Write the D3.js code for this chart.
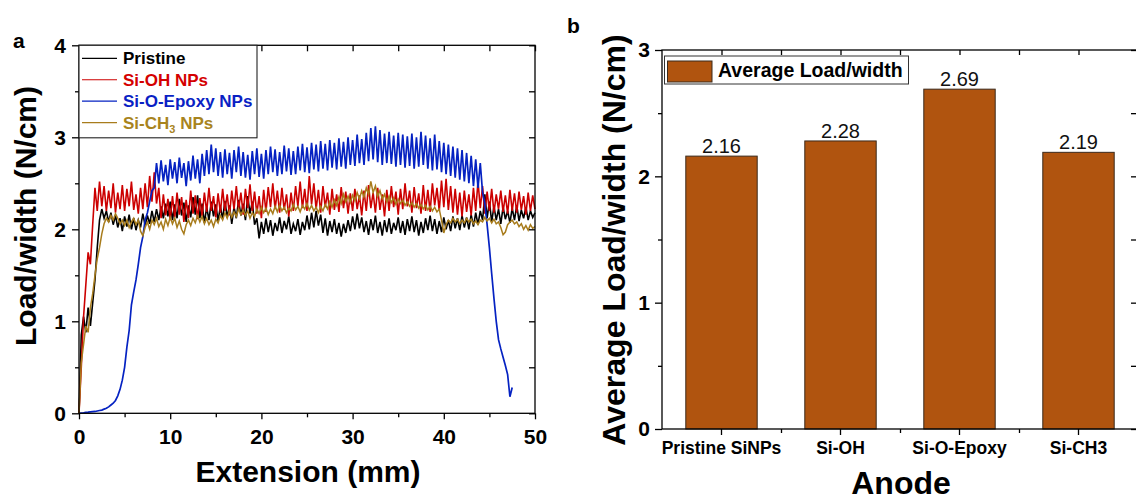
<!DOCTYPE html>
<html>
<head>
<meta charset="utf-8">
<script src="https://cdn.jsdelivr.net/npm/d3@7"></script>
<style>
  html, body { margin: 0; padding: 0; background: #fff; }
  svg { display: block; }
</style>
</head>
<body>
<script>
// ---------------- DATA ----------------
// Panel a: peel test curves (extension in mm, load/width in N/cm)
const extension = [
  0,0.25,0.5,0.75,1,1.25,1.5,1.75,2,2.25,2.5,2.75,3,3.25,3.5,3.75,4,4.25,4.5,4.75,
  5,5.25,5.5,5.75,6,6.25,6.5,6.75,7,7.25,7.5,7.75,8,8.25,8.5,8.75,9,9.25,9.5,9.75,
  10,10.25,10.5,10.75,11,11.25,11.5,11.75,12,12.25,12.5,12.75,13,13.25,13.5,13.75,14,14.25,14.5,14.75,
  15,15.25,15.5,15.75,16,16.25,16.5,16.75,17,17.25,17.5,17.75,18,18.25,18.5,18.75,19,19.25,19.5,19.75,
  20,20.25,20.5,20.75,21,21.25,21.5,21.75,22,22.25,22.5,22.75,23,23.25,23.5,23.75,24,24.25,24.5,24.75,
  25,25.25,25.5,25.75,26,26.25,26.5,26.75,27,27.25,27.5,27.75,28,28.25,28.5,28.75,29,29.25,29.5,29.75,
  30,30.25,30.5,30.75,31,31.25,31.5,31.75,32,32.25,32.5,32.75,33,33.25,33.5,33.75,34,34.25,34.5,34.75,
  35,35.25,35.5,35.75,36,36.25,36.5,36.75,37,37.25,37.5,37.75,38,38.25,38.5,38.75,39,39.25,39.5,39.75,
  40,40.25,40.5,40.75,41,41.25,41.5,41.75,42,42.25,42.5,42.75,43,43.25,43.5,43.75,44,44.25,44.5,44.75,
  45,45.25,45.5,45.75,46,46.25,46.5,46.75,47,47.25,47.5,47.75,48,48.25,48.5,48.75,49,49.25,49.5,49.75,
  50
];
const pristine = [
  0,0.85,1.05,0.88,1.15,0.95,1.2,1.45,1.8,2.1,2.22,2.12,2.2,2.08,2.18,2.05,2.15,2.02,2.12,1.98,
  2.14,2.03,2.16,2.0,2.12,1.99,2.1,2.02,2.17,2.04,2.15,2.06,2.2,2.08,2.22,2.1,2.25,2.12,2.28,2.14,
  2.3,2.1,2.27,2.12,2.33,2.15,2.29,2.08,2.26,2.13,2.35,2.16,2.37,2.12,2.28,2.07,2.24,2.1,2.3,2.14,
  2.27,2.09,2.25,2.11,2.31,2.13,2.26,2.06,2.24,2.12,2.32,2.15,2.28,2.1,2.36,2.17,2.3,2.05,2.12,1.9,
  2.08,1.95,2.12,1.97,2.1,1.93,2.07,1.98,2.13,1.96,2.09,2.0,2.14,1.95,2.06,1.98,2.11,1.94,2.08,1.99,
  2.15,2.0,2.18,2.02,2.2,2.04,2.16,1.96,2.12,1.93,2.09,1.97,2.11,1.95,2.07,1.92,2.06,1.96,2.1,1.98,
  2.14,2.0,2.17,2.01,2.13,1.97,2.09,1.94,2.11,1.99,2.15,1.96,2.08,1.93,2.1,1.97,2.12,1.95,2.07,1.99,
  2.13,1.96,2.09,1.94,2.11,1.98,2.14,1.97,2.1,1.93,2.08,1.96,2.12,1.99,2.15,1.98,2.11,1.95,2.09,1.97,
  2.13,2.0,2.1,1.98,2.14,2.01,2.12,1.99,2.15,2.02,2.13,2.0,2.16,2.03,2.18,2.05,2.2,2.1,2.38,2.12,
  2.3,2.08,2.25,2.1,2.22,2.06,2.24,2.11,2.2,2.07,2.23,2.1,2.26,2.09,2.21,2.12,2.24,2.1,2.2,2.13,
  2.18
];
const siOH = [
  0,0.5,1.05,1.4,1.75,1.62,2.05,2.45,2.2,2.52,2.25,2.47,2.2,2.42,2.23,2.5,2.18,2.4,2.22,2.48,
  2.2,2.44,2.25,2.52,2.21,2.38,2.17,2.45,2.22,2.5,2.24,2.58,2.3,2.62,2.28,2.45,2.12,2.38,2.15,2.33,
  2.1,2.36,2.13,2.4,2.16,2.35,2.08,2.32,2.12,2.42,2.17,2.37,2.11,2.34,2.14,2.4,2.19,2.45,2.2,2.36,
  2.13,2.39,2.18,2.44,2.2,2.38,2.15,2.42,2.22,2.47,2.21,2.4,2.16,2.44,2.23,2.49,2.2,2.41,2.17,2.36,
  2.12,2.43,2.19,2.46,2.24,2.5,2.22,2.42,2.18,2.45,2.21,2.38,2.14,2.4,2.2,2.47,2.25,2.52,2.23,2.44,
  2.2,2.58,2.27,2.5,2.22,2.43,2.18,2.47,2.24,2.4,2.16,2.44,2.21,2.38,2.19,2.46,2.23,2.41,2.17,2.39,
  2.2,2.44,2.22,2.37,2.15,2.42,2.2,2.48,2.23,2.4,2.18,2.45,2.21,2.38,2.14,2.43,2.2,2.47,2.24,2.41,
  2.16,2.44,2.22,2.5,2.25,2.42,2.18,2.46,2.23,2.39,2.17,2.48,2.2,2.43,2.19,2.5,2.26,2.45,2.2,2.53,
  2.24,2.55,2.21,2.47,2.18,2.44,2.16,2.4,2.14,2.42,2.19,2.38,2.15,2.45,2.2,2.52,2.23,2.47,2.17,2.41,
  2.2,2.44,2.18,2.38,2.22,2.42,2.19,2.37,2.17,2.43,2.2,2.39,2.18,2.41,2.21,2.36,2.16,2.4,2.2,2.37,
  2.22
];
const siOEpoxy = [
  0,0.003,0.006,0.01,0.012,0.015,0.018,0.02,0.025,0.03,0.035,0.045,0.055,0.07,0.09,0.11,0.14,0.19,0.26,0.36,
  0.5,0.72,0.9,1.18,1.32,1.45,1.62,1.8,1.92,2.1,2.18,2.3,2.42,2.45,2.72,2.5,2.75,2.52,2.7,2.48,
  2.76,2.55,2.73,2.5,2.78,2.56,2.72,2.47,2.74,2.53,2.8,2.55,2.76,2.5,2.82,2.58,2.86,2.6,2.92,2.62,
  2.88,2.58,2.84,2.56,2.87,2.6,2.83,2.55,2.86,2.62,2.9,2.58,2.84,2.56,2.81,2.54,2.85,2.6,2.88,2.57,
  2.82,2.55,2.86,2.6,2.9,2.62,2.87,2.58,2.84,2.6,2.91,2.63,2.88,2.59,2.85,2.6,2.9,2.64,2.93,2.62,
  2.89,2.61,2.94,2.65,2.92,2.63,2.96,2.66,2.93,2.64,2.97,2.67,2.94,2.65,2.99,2.68,2.95,2.66,3.0,2.7,
  2.97,2.69,3.03,2.72,2.98,2.7,3.05,2.74,3.1,2.76,3.12,2.73,3.08,2.7,3.04,2.72,3.06,2.71,3.02,2.68,
  3.05,2.7,3.03,2.67,3.01,2.69,3.04,2.66,3.0,2.68,3.06,2.7,3.02,2.66,2.99,2.64,3.03,2.65,2.96,2.62,
  2.94,2.6,2.92,2.58,2.9,2.56,2.88,2.54,2.86,2.52,2.83,2.5,2.8,2.47,2.76,2.45,2.72,2.4,2.28,2.05,
  1.8,1.52,1.25,1.0,0.8,0.7,0.61,0.52,0.42,0.18,0.28,null,null,null,null,null,null,null,null,null,
  null
];
const siCH3 = [
  0,0.55,0.75,0.95,0.88,1.15,1.3,1.5,1.68,1.8,1.95,2.06,2.12,2.08,2.15,2.1,2.17,2.12,2.06,2.1,
  2.04,2.1,2.02,2.08,2.12,2.05,2.1,1.98,1.93,2.02,2.08,2.0,2.1,2.05,2.12,2.03,2.08,2.0,2.11,2.04,
  2.13,2.06,2.12,2.02,2.09,2.0,1.95,2.05,2.1,2.04,2.12,2.07,2.15,2.08,2.14,2.06,2.12,2.05,2.1,2.03,
  2.11,2.07,2.15,2.1,2.18,2.12,2.2,2.13,2.19,2.14,2.22,2.16,2.21,2.15,2.2,2.12,2.18,2.14,2.22,2.17,
  2.24,2.18,2.23,2.16,2.22,2.17,2.25,2.19,2.26,2.2,2.24,2.18,2.23,2.2,2.27,2.21,2.25,2.19,2.26,2.22,
  2.28,2.21,2.26,2.2,2.24,2.18,2.25,2.2,2.27,2.22,2.3,2.24,2.32,2.26,2.35,2.28,2.38,2.3,2.36,2.29,
  2.37,2.31,2.4,2.33,2.42,2.35,2.45,2.38,2.52,2.4,2.47,2.36,2.42,2.33,2.38,2.3,2.36,2.29,2.34,2.27,
  2.33,2.28,2.32,2.26,2.3,2.25,2.29,2.24,2.28,2.23,2.27,2.22,2.26,2.21,2.25,2.2,2.24,2.19,2.22,2.1,
  1.96,2.05,2.1,2.07,2.12,2.08,2.11,2.06,2.1,2.07,2.12,2.08,2.11,2.06,2.09,2.05,2.1,2.08,2.13,2.09,
  2.12,2.07,2.11,2.06,2.08,2.02,1.94,1.97,2.05,2.08,2.1,2.06,2.08,2.03,2.06,2.0,2.04,1.99,2.05,2.01,
  2.03
];
const seriesNames = ["Pristine", "Si-OH NPs", "Si-O-Epoxy NPs", "Si-CH3 NPs"];
const seriesColors = ["#000000", "#cc0000", "#0522c2", "#a87c1c"];
const legendTextColors = ["#000000", "#d40000", "#0a1fc4", "#a8841e"];
const xTicksA = [0, 10, 20, 30, 40, 50];
const xMinorA = [5, 15, 25, 35, 45];
const yTicksA = [0, 1, 2, 3, 4];
const yMinorA = [0.5, 1.5, 2.5, 3.5];

// Panel b: average load/width
const anodeCategories = ["Pristine SiNPs", "Si-OH", "Si-O-Epoxy", "Si-CH3"];
const avgLoad = [2.16, 2.28, 2.69, 2.19];
const yTicksB = [0, 1, 2, 3];
const yMinorB = [0.5, 1.5, 2.5];

// ---------------- DRAW ----------------
const FONT = "Arial, 'Liberation Sans', Helvetica, sans-serif";
const W = 1136, H = 500;
const svg = d3.select("body").append("svg").attr("width", W).attr("height", H)
  .attr("font-family", FONT);

function styleAxis(g, size, weight) {
  g.attr("font-family", FONT).attr("font-size", size).attr("font-weight", weight);
  g.select(".domain").remove();
  g.selectAll(".tick line").attr("stroke", "#000").attr("stroke-width", 1.3);
  g.selectAll(".tick text").attr("fill", "#000");
}

// ===== Panel a =====
const xA = d3.scaleLinear().domain([0, 50]).range([79, 535]);
const yA = d3.scaleLinear().domain([0, 4]).range([413.3, 45.3]);
const gA = svg.append("g");

const line = d3.line()
  .defined(d => d[1] != null)
  .x(d => xA(d[0])).y(d => yA(d[1]));
const seriesData = [pristine, siOH, siOEpoxy, siCH3];
const seriesWidths = [1.6, 1.6, 1.7, 1.5];
seriesData.forEach((vals, i) => {
  const pts = extension.map((x, j) => [x, vals[j]]);
  gA.append("path").datum(pts)
    .attr("d", line)
    .attr("fill", "none")
    .attr("stroke", seriesColors[i])
    .attr("stroke-width", seriesWidths[i])
    .attr("stroke-linejoin", "miter");
});

// axes
styleAxis(gA.append("g").attr("transform", `translate(0,${yA(0)})`)
  .call(d3.axisBottom(xA).tickValues(xTicksA).tickSize(6).tickPadding(10).tickFormat(d3.format("d"))), 21, "bold");
styleAxis(gA.append("g").attr("transform", `translate(0,${yA(0)})`)
  .call(d3.axisBottom(xA).tickValues(xMinorA).tickSize(4).tickFormat("")), 10, "normal");
styleAxis(gA.append("g").attr("transform", `translate(${xA(0)},0)`)
  .call(d3.axisLeft(yA).tickValues(yTicksA).tickSize(7).tickPadding(6).tickFormat(d3.format("d"))), 21, "bold");
styleAxis(gA.append("g").attr("transform", `translate(${xA(0)},0)`)
  .call(d3.axisLeft(yA).tickValues(yMinorA).tickSize(4).tickFormat("")), 10, "normal");
styleAxis(gA.append("g").attr("transform", `translate(0,${yA(4)})`)
  .call(d3.axisTop(xA).tickValues(xTicksA.concat(xMinorA)).tickSize(-6).tickFormat("")), 10, "normal");
styleAxis(gA.append("g").attr("transform", `translate(${xA(50)},0)`)
  .call(d3.axisRight(yA).tickValues(yTicksA.concat(yMinorA)).tickSize(-6).tickFormat("")), 10, "normal");

// frame
gA.append("rect")
  .attr("x", xA(0)).attr("y", yA(4))
  .attr("width", xA(50) - xA(0)).attr("height", yA(0) - yA(4))
  .attr("fill", "none").attr("stroke", "#000").attr("stroke-width", 1.3);

// legend a
const legA = gA.append("g");
legA.append("rect").attr("x", xA(0)).attr("y", yA(4)).attr("width", 178).attr("height", 92.5)
  .attr("fill", "#fff").attr("stroke", "#222").attr("stroke-width", 1.1);
seriesNames.forEach((name, i) => {
  const base = 64.3 + i * 21.45;
  legA.append("line").attr("x1", 82).attr("x2", 117).attr("y1", base - 6).attr("y2", base - 6)
    .attr("stroke", seriesColors[i]).attr("stroke-width", 1.2);
  const t = legA.append("text").attr("x", 123).attr("y", base)
    .attr("font-size", 17).attr("font-weight", "bold").attr("fill", legendTextColors[i]);
  if (name === "Si-CH3 NPs") {
    t.append("tspan").text("Si-CH");
    t.append("tspan").text("3").attr("font-size", 11).attr("dy", 4);
    t.append("tspan").text(" NPs").attr("dy", -4);
  } else {
    t.text(name);
  }
});

// titles a
svg.append("text").attr("x", 13).attr("y", 48).text("a")
  .attr("font-size", 21).attr("font-weight", "bold");
svg.append("text").attr("transform", "translate(36,216) rotate(-90)")
  .attr("text-anchor", "middle").attr("font-size", 30).attr("font-weight", "bold")
  .text("Load/width (N/cm)");
svg.append("text").attr("x", 308).attr("y", 482).attr("text-anchor", "middle")
  .attr("font-size", 30).attr("font-weight", "bold").text("Extension (mm)");

// ===== Panel b =====
const xB = d3.scaleBand().domain(anodeCategories).range([662, 1138]).paddingInner(0.4).paddingOuter(0.2);
const yB = d3.scaleLinear().domain([0, 3]).range([429, 50]);
const gB = svg.append("g");

gB.selectAll("rect.bar").data(anodeCategories).join("rect")
  .attr("class", "bar")
  .attr("x", d => xB(d)).attr("width", xB.bandwidth())
  .attr("y", (d, i) => yB(avgLoad[i])).attr("height", (d, i) => yB(0) - yB(avgLoad[i]))
  .attr("fill", "#b0540f").attr("stroke", "#3b2a1c").attr("stroke-width", 1);

gB.selectAll("text.val").data(anodeCategories).join("text")
  .attr("class", "val")
  .attr("x", d => xB(d) + xB.bandwidth() / 2)
  .attr("y", (d, i) => yB(avgLoad[i]) - 3)
  .attr("text-anchor", "middle").attr("font-size", 20).attr("fill", "#111")
  .text((d, i) => avgLoad[i].toFixed(2));

// band boundaries for minor ticks
const step = xB.step();
const centers = anodeCategories.map(c => xB(c) + xB.bandwidth() / 2);
const bounds = centers.slice(0, -1).map(c => c + step / 2);
const xPos = d3.scaleIdentity();

styleAxis(gB.append("g").attr("transform", `translate(0,${yB(0)})`)
  .call(d3.axisBottom(xB).tickSize(6).tickPadding(7)), 17.5, "bold");
styleAxis(gB.append("g").attr("transform", `translate(0,${yB(0)})`)
  .call(d3.axisBottom(xPos).tickValues(bounds).tickSize(4).tickFormat("")), 10, "normal");
styleAxis(gB.append("g").attr("transform", `translate(0,${yB(3)})`)
  .call(d3.axisTop(xPos).tickValues(centers.concat(bounds)).tickSize(-5).tickFormat("")), 10, "normal");
styleAxis(gB.append("g").attr("transform", "translate(662,0)")
  .call(d3.axisLeft(yB).tickValues(yTicksB).tickSize(7).tickPadding(5).tickFormat(d3.format("d"))), 21, "bold");
styleAxis(gB.append("g").attr("transform", "translate(662,0)")
  .call(d3.axisLeft(yB).tickValues(yMinorB).tickSize(4).tickFormat("")), 10, "normal");
styleAxis(gB.append("g").attr("transform", "translate(1138,0)")
  .call(d3.axisRight(yB).tickValues(yTicksB.concat(yMinorB)).tickSize(-7).tickFormat("")), 10, "normal");

gB.append("rect").attr("x", 662).attr("y", yB(3)).attr("width", 1138 - 662).attr("height", yB(0) - yB(3))
  .attr("fill", "none").attr("stroke", "#000").attr("stroke-width", 1.3);

// legend b
gB.append("rect").attr("x", 664.5).attr("y", 56).attr("width", 244).attr("height", 28)
  .attr("fill", "#fff").attr("stroke", "#333").attr("stroke-width", 1);
gB.append("rect").attr("x", 667.5).attr("y", 61).attr("width", 44.5).attr("height", 21)
  .attr("fill", "#b0540f").attr("stroke", "#3b2a1c").attr("stroke-width", 1);
gB.append("text").attr("x", 718).attr("y", 77).attr("font-size", 19.5).attr("font-weight", "bold")
  .text("Average Load/width");

// titles b
svg.append("text").attr("x", 567).attr("y", 33).text("b")
  .attr("font-size", 21).attr("font-weight", "bold");
svg.append("text").attr("transform", "translate(625,240) rotate(-90)")
  .attr("text-anchor", "middle").attr("font-size", 32).attr("font-weight", "bold")
  .text("Average Load/width (N/cm)");
svg.append("text").attr("x", 901).attr("y", 494).attr("text-anchor", "middle")
  .attr("font-size", 32).attr("font-weight", "bold").text("Anode");
</script>
</body>
</html>
